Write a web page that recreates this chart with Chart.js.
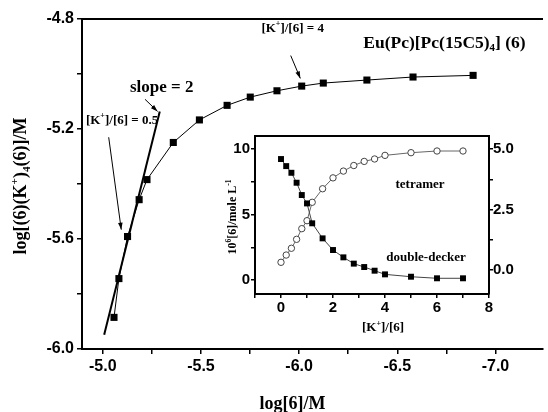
<!DOCTYPE html>
<html>
<head>
<meta charset="utf-8">
<style>
  html, body { margin: 0; padding: 0; background: #fff; }
  #main { position: absolute; left: 0; top: 0; }
  #inset { position: absolute; left: 210px; top: 126px; }
</style>
<script src="https://cdn.jsdelivr.net/npm/chart.js@4.4.1/dist/chart.umd.min.js"></script>
</head>
<body>
<canvas id="main" width="548" height="412"></canvas>
<canvas id="inset" width="335" height="220"></canvas>
<script>
// ---------- DATA ----------
// main plot: log[6]/M vs log[(6)(K+)4(6)]/M
const logConc = [-5.057, -5.082, -5.126, -5.185, -5.225, -5.359, -5.492, -5.633, -5.751, -5.887, -6.013, -6.123, -6.345, -6.580, -6.886];
const logComplex = [-5.885, -5.744, -5.591, -5.457, -5.384, -5.249, -5.167, -5.114, -5.084, -5.061, -5.044, -5.033, -5.022, -5.011, -5.005];
// slope = 2 fit line (two end values)
const slopeX = [-5.007, -5.290];
const slopeY = [-5.948, -5.136];
// main tick values
const mainXTicks = [-7.0, -6.75, -6.5, -6.25, -6.0, -5.75, -5.5, -5.25, -5.0];
const mainYTicks = [-6.0, -5.8, -5.6, -5.4, -5.2, -5.0, -4.8];

// inset: [K+]/[6] vs concentration
const ratio = [0, 0.2, 0.4, 0.6, 0.8, 1.0, 1.2, 1.6, 2.0, 2.4, 2.8, 3.2, 3.6, 4.0, 5, 6, 7];
const doubleDecker = [9.24, 8.70, 8.19, 7.43, 6.49, 5.85, 4.33, 3.18, 2.29, 1.73, 1.25, 0.99, 0.71, 0.43, 0.25, 0.13, 0.13];
const tetramer = [0.32, 0.62, 0.90, 1.27, 1.71, 2.04, 2.80, 3.36, 3.81, 4.09, 4.32, 4.49, 4.59, 4.74, 4.85, 4.92, 4.92];
const insetXTicks = [-1, 0, 1, 2, 3, 4, 5, 6, 7, 8];
const insetYTicks = [0, 2.5, 5, 7.5, 10];
const insetY2Ticks = [0, 1.25, 2.5, 3.75, 5];

// ---------- helpers ----------
const SANS = '"Liberation Sans", Arial, sans-serif';
const SERIF = '"Liberation Serif", "Times New Roman", serif';

function richWidth(ctx, parts, size) {
  let w = 0;
  for (const [t, m] of parts) {
    ctx.font = 'bold ' + (m ? size * 0.62 : size) + 'px ' + SERIF;
    w += ctx.measureText(t).width;
  }
  return w;
}
function drawRich(ctx, parts, x, y, size) {
  ctx.textBaseline = 'alphabetic';
  ctx.textAlign = 'left';
  let cx = x - richWidth(ctx, parts, size) / 2;
  for (const [t, m] of parts) {
    const s = m ? size * 0.62 : size;
    ctx.font = 'bold ' + s + 'px ' + SERIF;
    const dy = m === 1 ? -size * 0.42 : (m === -1 ? size * 0.22 : 0);
    ctx.fillText(t, cx, y + dy);
    cx += ctx.measureText(t).width;
  }
}
function drawArrow(ctx, x1, y1, x2, y2) {
  ctx.beginPath();
  ctx.moveTo(x1, y1);
  ctx.lineTo(x2, y2);
  ctx.lineWidth = 1;
  ctx.strokeStyle = '#000';
  ctx.stroke();
  const a = Math.atan2(y2 - y1, x2 - x1);
  const L = 7, W = 2.3;
  ctx.beginPath();
  ctx.moveTo(x2, y2);
  ctx.lineTo(x2 - L * Math.cos(a) + W * Math.sin(a), y2 - L * Math.sin(a) - W * Math.cos(a));
  ctx.lineTo(x2 - L * Math.cos(a) - W * Math.sin(a), y2 - L * Math.sin(a) + W * Math.cos(a));
  ctx.closePath();
  ctx.fillStyle = '#000';
  ctx.fill();
}
function isMult(v, step) {
  const q = v / step;
  return Math.abs(q - Math.round(q)) < 1e-6;
}

// annotation anchors in data units of the main plot
const titlePos = [-6.740, -4.904];
const k4TextPos = [-5.967, -4.846];
const k4Arrow = [[-5.957, -4.933], [-6.006, -5.016]];
const slopeTextPos = [-5.300, -5.064];
const slopeArrow = [[-5.215, -5.092], [-5.279, -5.136]];
const k05TextPos = [-5.098, -5.181];
const k05Arrow = [[-5.030, -5.230], [-5.094, -5.566]];

const mainAnnot = {
  id: 'mainAnnot',
  afterDraw(chart) {
    const ctx = chart.ctx;
    const xs = chart.scales.x, ys = chart.scales.y;
    const P = (p) => [xs.getPixelForValue(p[0]), ys.getPixelForValue(p[1])];
    const ca = chart.chartArea;
    ctx.save();
    ctx.beginPath();
    ctx.moveTo(ca.left, ca.top);
    ctx.lineTo(ca.right, ca.top);
    ctx.lineWidth = 2;
    ctx.strokeStyle = '#000';
    ctx.stroke();
    ctx.fillStyle = '#000';
    let p = P(titlePos);
    drawRich(ctx, [['Eu(Pc)[Pc(15C5)', 0], ['4', -1], ['] (6)', 0]], p[0], p[1], 17.5);
    p = P(k4TextPos);
    drawRich(ctx, [['[K', 0], ['+', 1], [']/[6] = 4', 0]], p[0], p[1], 13);
    let a = P(k4Arrow[0]), b = P(k4Arrow[1]);
    drawArrow(ctx, a[0], a[1], b[0], b[1]);
    p = P(slopeTextPos);
    drawRich(ctx, [['slope = 2', 0]], p[0], p[1], 17);
    a = P(slopeArrow[0]); b = P(slopeArrow[1]);
    drawArrow(ctx, a[0], a[1], b[0], b[1]);
    p = P(k05TextPos);
    drawRich(ctx, [['[K', 0], ['+', 1], [']/[6] = 0.5', 0]], p[0], p[1], 13);
    a = P(k05Arrow[0]); b = P(k05Arrow[1]);
    drawArrow(ctx, a[0], a[1], b[0], b[1]);
    ctx.fillStyle = '#000';
    drawRich(ctx, [['log[6]/M', 0]], (ca.left + ca.right) / 2 - 20, 409, 18);
    ctx.save();
    ctx.translate(26, (ca.top + ca.bottom) / 2 + 2);
    ctx.rotate(-Math.PI / 2);
    drawRich(ctx, [['log[(6)(K', 0], ['+', 1], [')', 0], ['4', -1], ['(6)]/M', 0]], 0, 0, 18);
    ctx.restore();
    ctx.restore();
  }
};

const tickFontMain = { family: SANS, weight: 'bold', size: 16 };

new Chart(document.getElementById('main'), {
  type: 'line',
  data: {
    datasets: [
      {
        data: logConc.map((x, i) => ({ x, y: logComplex[i] })),
        borderColor: '#000',
        borderWidth: 1,
        pointStyle: 'rect',
        pointRadius: 5,
        pointBackgroundColor: '#000',
        pointBorderColor: '#000',
        pointBorderWidth: 0,
        tension: 0
      },
      {
        data: slopeX.map((x, i) => ({ x, y: slopeY[i] })),
        borderColor: '#000',
        borderWidth: 2,
        pointRadius: 0,
        tension: 0
      }
    ]
  },
  options: {
    responsive: false,
    animation: false,
    devicePixelRatio: 1,
    layout: { padding: { top: 19, left: 0, right: 0, bottom: 0 } },
    plugins: { legend: { display: false }, tooltip: { enabled: false } },
    scales: {
      x: {
        type: 'linear',
        reverse: true,
        min: -7.242,
        max: -4.894,
        afterFit(s) { s.height = 63; },
        afterBuildTicks(s) { s.ticks = mainXTicks.map(v => ({ value: v })); },
        border: { display: true, color: '#000', width: 2 },
        grid: { drawOnChartArea: false, color: '#000', lineWidth: 1.5, tickLength: 5 },
        ticks: {
          autoSkip: false, maxRotation: 0, padding: 3, color: '#000', font: tickFontMain,
          callback: (v) => isMult(v, 0.5) ? v.toFixed(1) : ''
        }
      },
      y: {
        type: 'linear',
        min: -6.0,
        max: -4.8,
        afterFit(s) { s.width = 82; },
        afterBuildTicks(s) { s.ticks = mainYTicks.map(v => ({ value: v })); },
        border: { display: true, color: '#000', width: 2 },
        grid: { drawOnChartArea: false, color: '#000', lineWidth: 1.5, tickLength: 5 },
        ticks: {
          autoSkip: false, padding: 3, color: '#000', font: tickFontMain,
          callback: (v) => isMult(v, 0.4) ? v.toFixed(1) : ''
        }
      }
    }
  },
  plugins: [mainAnnot]
});

// ---------- inset ----------
const insetAnnot = {
  id: 'insetAnnot',
  afterDraw(chart) {
    const ctx = chart.ctx;
    const ca = chart.chartArea;
    ctx.save();
    ctx.beginPath();
    ctx.moveTo(ca.left, ca.top);
    ctx.lineTo(ca.right, ca.top);
    ctx.lineWidth = 2;
    ctx.strokeStyle = '#000';
    ctx.stroke();
    ctx.fillStyle = '#000';
    drawRich(ctx, [['tetramer', 0]], ca.left + 165, ca.top + 52, 13);
    drawRich(ctx, [['double-decker', 0]], ca.left + 171, ca.top + 125, 13);
    drawRich(ctx, [['[K', 0], ['+', 1], [']/[6]', 0]], (ca.left + ca.right) / 2 + 11, 205, 13);
    ctx.translate(26, (ca.top + ca.bottom) / 2 + 2);
    ctx.rotate(-Math.PI / 2);
    drawRich(ctx, [['10', 0], ['6', 1], ['[6]/mole L', 0], ['-1', 1]], 0, 0, 12);
    ctx.restore();
  }
};
const tickFontInset = { family: SANS, weight: 'bold', size: 15 };

new Chart(document.getElementById('inset'), {
  type: 'line',
  data: {
    datasets: [
      {
        data: ratio.map((x, i) => ({ x, y: doubleDecker[i] })),
        yAxisID: 'y',
        borderColor: '#444',
        borderWidth: 1,
        pointStyle: 'rect',
        pointRadius: 4.2,
        pointBackgroundColor: '#000',
        pointBorderColor: '#000',
        pointBorderWidth: 0,
        tension: 0
      },
      {
        data: ratio.map((x, i) => ({ x, y: tetramer[i] })),
        yAxisID: 'y2',
        borderColor: '#666',
        borderWidth: 1,
        pointStyle: 'circle',
        pointRadius: 3.2,
        pointBackgroundColor: '#fff',
        pointBorderColor: '#444',
        pointBorderWidth: 1,
        tension: 0
      }
    ]
  },
  options: {
    responsive: false,
    animation: false,
    devicePixelRatio: 1,
    layout: { padding: { top: 10, left: 0, right: 0, bottom: 0 } },
    plugins: { legend: { display: false }, tooltip: { enabled: false } },
    scales: {
      x: {
        type: 'linear',
        min: -1,
        max: 8,
        afterFit(s) { s.height = 52; },
        afterBuildTicks(s) { s.ticks = insetXTicks.map(v => ({ value: v })); },
        border: { display: true, color: '#000', width: 2 },
        grid: { drawOnChartArea: false, color: '#000', lineWidth: 1.5, tickLength: 4 },
        ticks: {
          autoSkip: false, maxRotation: 0, padding: 1, color: '#000', font: tickFontInset,
          callback: (v) => (v >= 0 && isMult(v, 2)) ? String(v) : ''
        }
      },
      y: {
        type: 'linear',
        position: 'left',
        min: -1.07,
        max: 11,
        afterFit(s) { s.width = 45; },
        afterBuildTicks(s) { s.ticks = insetYTicks.map(v => ({ value: v })); },
        border: { display: true, color: '#000', width: 2 },
        grid: { drawOnChartArea: false, color: '#000', lineWidth: 1.5, tickLength: 4 },
        ticks: {
          autoSkip: false, padding: 1, color: '#000', font: tickFontInset,
          callback: (v) => isMult(v, 5) ? String(v) : ''
        }
      },
      y2: {
        type: 'linear',
        position: 'right',
        min: -0.99,
        max: 5.54,
        afterFit(s) { s.width = 56; },
        afterBuildTicks(s) { s.ticks = insetY2Ticks.map(v => ({ value: v })); },
        border: { display: true, color: '#000', width: 2 },
        grid: { drawOnChartArea: false, color: '#000', lineWidth: 1.5, tickLength: 4 },
        ticks: {
          autoSkip: false, padding: 0, color: '#000', font: tickFontInset,
          callback: (v) => isMult(v, 2.5) ? v.toFixed(1) : ''
        }
      }
    }
  },
  plugins: [insetAnnot]
});
</script>
</body>
</html>
